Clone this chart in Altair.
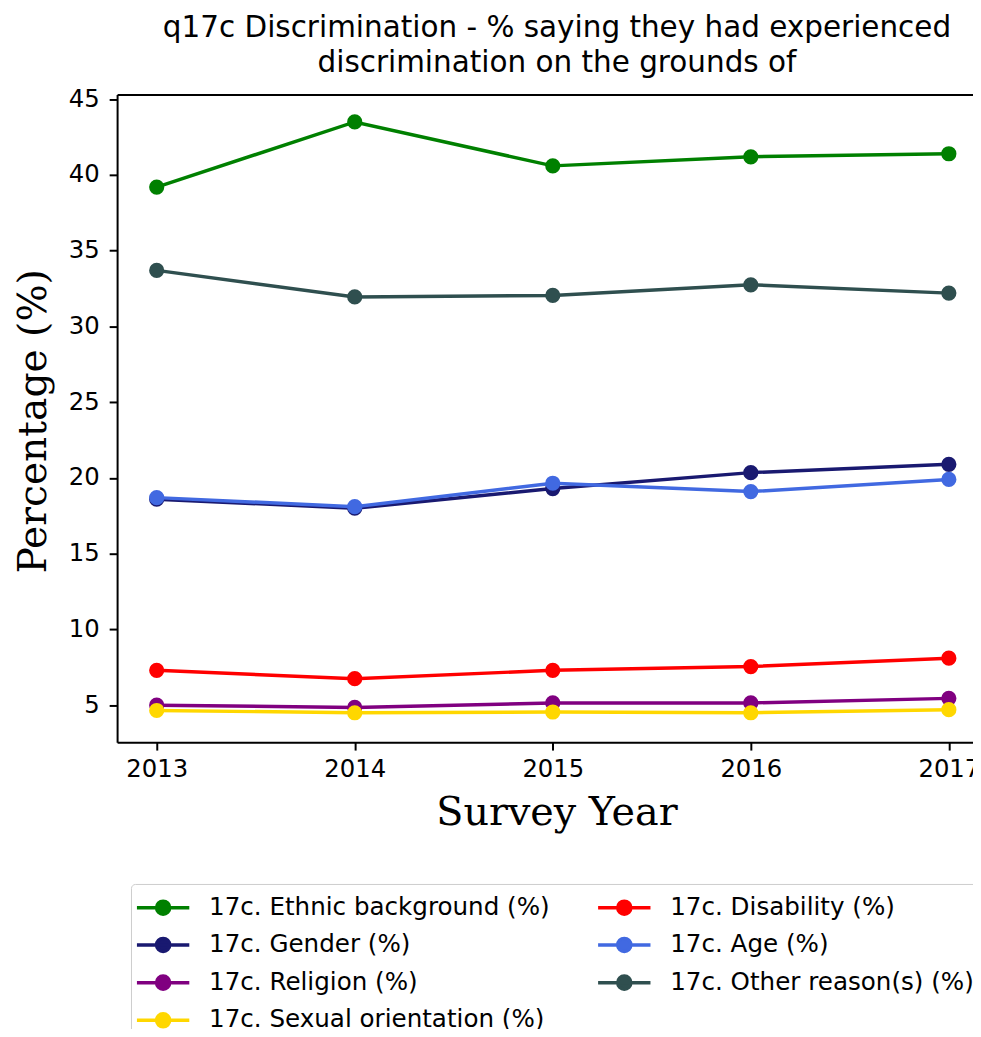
import altair as alt
import pandas as pd

years = [2013, 2014, 2015, 2016, 2017]

series_names = [
    "17c. Ethnic background (%)",
    "17c. Gender (%)",
    "17c. Religion (%)",
    "17c. Sexual orientation (%)",
    "17c. Disability (%)",
    "17c. Age (%)",
    "17c. Other reason(s) (%)",
]
series_colors = ["green", "midnightblue", "purple", "gold", "red", "royalblue", "darkslategray"]

ethnic = [39.2, 43.5, 40.6, 41.2, 41.4]
gender = [18.6, 18.0, 19.3, 20.35, 20.9]
religion = [5.0, 4.85, 5.15, 5.15, 5.45]
sexual = [4.65, 4.5, 4.55, 4.5, 4.7]
disability = [7.3, 6.75, 7.3, 7.55, 8.1]
age = [18.7, 18.1, 19.65, 19.1, 19.9]
other = [33.7, 31.95, 32.05, 32.75, 32.2]

series_values = [ethnic, gender, religion, sexual, disability, age, other]

y_ticks = [5, 10, 15, 20, 25, 30, 35, 40, 45]

rows = []
for name, vals in zip(series_names, series_values):
    for yr, v in zip(years, vals):
        rows.append({"year": yr, "value": v, "series": name})
df = pd.DataFrame(rows)

x_scale = alt.Scale(domain=[2012.8, 2017.122], nice=False, zero=False)
y_scale = alt.Scale(domain=[2.56, 45.31], nice=False, zero=False)

x_axis = alt.Axis(
    values=years, format="d", tickSize=8, tickWidth=2, tickColor="black",
    domainColor="black", domainWidth=2, labelFont="DejaVu Sans", labelFontSize=24.5,
    labelColor="black", labelPadding=8, grid=False, labelOverlap=False, labelFlush=False,
    title="Survey Year", titleFont="DejaVu Serif", titleFontSize=40,
    titleFontWeight="normal", titleColor="black", titleX=443, titleY=83.5,
    titleBaseline="alphabetic", titleAlign="center",
)
y_axis = alt.Axis(
    values=y_ticks, tickSize=8, tickWidth=2, tickColor="black",
    domainColor="black", domainWidth=2, labelFont="DejaVu Sans", labelFontSize=24.5,
    labelColor="black", labelPadding=10, grid=False, labelOverlap=False, labelFlush=False,
    title="Percentage (%)", titleFont="DejaVu Serif", titleFontSize=39.5,
    titleFontWeight="normal", titleColor="black", titleX=-72, titleY=329,
    titleAngle=-90, titleBaseline="alphabetic", titleAlign="center",
)

legend_symbol = "M-1.5,0L1.5,0M-0.375,0A0.375,0.375,0,1,0,0.375,0A0.375,0.375,0,1,0,-0.375,0Z"

legend = alt.Legend(
    title=None, orient="none", legendX=14, legendY=796, columns=2,
    labelFont="DejaVu Sans", labelFontSize=24.8, labelColor="black",
    symbolType=legend_symbol, symbolSize=1239, symbolStrokeWidth=3.5, symbolOffset=8.9,
    symbolOpacity=1, labelOffset=26.8, columnPadding=41, rowPadding=4,
    padding=4, strokeColor="#cccccc", fillColor="white", cornerRadius=4,
    labelLimit=600,
)

color = alt.Color("series:N", scale=alt.Scale(domain=series_names, range=series_colors), legend=legend)

X = alt.X("year:Q", scale=x_scale, axis=x_axis)
Y = alt.Y("value:Q", scale=y_scale, axis=y_axis)

base = alt.Chart(df)
layers = []
for name in series_names:
    b = base.transform_filter(alt.datum.series == name)
    layers.append(b.mark_line(strokeWidth=3.5).encode(x=X, y=Y, color=color))
    layers.append(b.mark_point(filled=True, size=235, opacity=1).encode(x=X, y=Y, color=color))

data_layer = alt.layer(*layers)

frame = base.mark_point(opacity=0).encode(
    x=alt.X("year:Q", scale=x_scale, axis=alt.Axis(orient="top", labels=False, ticks=False,
                                                   domain=True, domainColor="black",
                                                   domainWidth=2, grid=False, title=None)),
    y=alt.Y("value:Q", scale=y_scale, axis=None),
)

chart = alt.layer(data_layer, frame).resolve_axis(x="independent", y="independent").properties(
    width=863,
    height=653,
    autosize=alt.AutoSizeParams(type="none"),
    padding={"left": 110, "top": 83, "right": 0, "bottom": 285},
    title=alt.TitleParams(
        text=["q17c Discrimination - % saying they had experienced",
              "discrimination on the grounds of"],
        font="DejaVu Sans", fontSize=29.7, fontWeight="normal", color="black",
        anchor="middle", dx=12, offset=8, lineHeight=35,
    ),
).configure_view(stroke=None).configure(background="white")

chart.save("out.html", embed_options={"renderer": "svg", "actions": False})
